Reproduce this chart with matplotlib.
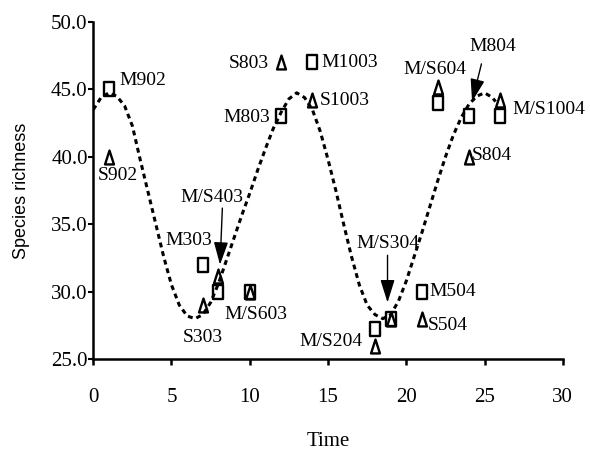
import matplotlib
matplotlib.use("Agg")
import matplotlib.pyplot as plt
from matplotlib.path import Path

# fitted curve, every half time unit
curve_time = [0.0, 0.5, 1.0, 1.5, 2.0, 2.5, 3.0, 3.5, 4.0, 4.5, 5.0, 5.5, 6.0, 6.5,
              7.0, 7.5, 8.0, 8.5, 9.0, 9.5, 10.0, 10.5, 11.0, 11.5, 12.0, 12.5, 13.0,
              13.5, 14.0, 14.5, 15.0, 15.5, 16.0, 16.5, 17.0, 17.5, 18.0, 18.5, 19.0,
              19.5, 20.0, 20.5, 21.0, 21.5, 22.0, 22.5, 23.0, 23.5, 24.0, 24.5, 25.0,
              25.5, 25.7]
curve_rich = [43.5, 44.4, 44.75, 44.5, 43.8, 42.3, 39.8, 37.4, 35.0, 32.6, 30.5, 29.0,
              28.2, 28.0, 28.3, 29.2, 30.6, 32.3, 34.0, 35.7, 37.3, 39.0, 40.6, 42.1,
              43.3, 44.3, 44.75, 44.4, 43.5, 41.9, 39.8, 37.5, 35.0, 32.6, 30.5, 29.0,
              28.3, 28.0, 28.3, 29.3, 30.8, 32.6, 34.4, 36.3, 38.2, 40.0, 41.6, 42.9,
              43.9, 44.5, 44.75, 44.4, 44.1]

# M samples (squares) and S samples (triangles)
m_time = [1, 7, 8, 10, 12, 14, 18, 19, 21, 22, 24, 26]
m_rich = [45.0, 32.0, 30.0, 30.0, 43.0, 47.0, 27.2, 28.0, 30.0, 44.0, 43.0, 43.0]
s_time = [1, 7, 8, 10, 12, 14, 18, 19, 21, 22, 24, 26]
s_rich = [40.0, 29.0, 31.2, 30.0, 47.0, 44.2, 26.0, 28.0, 28.0, 45.2, 40.0, 44.2]

x_ticks = [0, 5, 10, 15, 20, 25, 30]
y_ticks = [25.0, 30.0, 35.0, 40.0, 45.0, 50.0]

# plain labels: text, x, y, ha
labels = [
    ("M902", 1.65, 45.7, "left"),
    ("S902", 1.55, 38.6, "center"),
    ("S803", 11.2, 46.9, "right"),
    ("M803", 11.3, 42.9, "right"),
    ("M1003", 14.6, 47.0, "left"),
    ("S1003", 14.5, 44.2, "left"),
    ("M/S604", 21.8, 46.5, "center"),
    ("M/S1004", 26.75, 43.5, "left"),
    ("S804", 24.2, 40.1, "left"),
    ("M303", 6.1, 33.8, "center"),
    ("M/S603", 8.4, 28.3, "left"),
    ("S303", 7.0, 26.6, "center"),
    ("M/S204", 17.2, 26.3, "right"),
    ("M504", 21.5, 30.0, "left"),
    ("S504", 21.4, 27.5, "left"),
]

# labels with arrows: text, label xy, arrow start, arrow tip
arrows = [
    ("M/S403", (7.6, 37.0), (8.25, 36.2), (8.1, 32.0)),
    ("M/S304", (18.8, 33.6), (18.8, 32.7), (18.8, 29.2)),
    ("M804", (25.5, 48.2), (24.8, 46.9), (24.2, 44.1)),
]

rect = Path([(-0.36, -0.5), (0.36, -0.5), (0.36, 0.5), (-0.36, 0.5), (-0.36, -0.5)],
            [Path.MOVETO, Path.LINETO, Path.LINETO, Path.LINETO, Path.CLOSEPOLY])
tri = Path([(-0.32, -0.5), (0.32, -0.5), (0.0, 0.5), (-0.32, -0.5)],
           [Path.MOVETO, Path.LINETO, Path.LINETO, Path.CLOSEPOLY])

serif = ["Liberation Serif", "DejaVu Serif"]

fig = plt.figure(figsize=(5.9, 4.5), dpi=100)
ax = fig.add_axes([0.158, 0.202, 0.796, 0.749])

ax.plot(curve_time, curve_rich, color="k", lw=2.2, linestyle=(0, (1.6, 1.3)), zorder=2)
ax.plot(m_time, m_rich, linestyle="none", marker=rect, markersize=9.5,
        markerfacecolor="none", markeredgecolor="k", markeredgewidth=1.7, zorder=3)
ax.plot(s_time, s_rich, linestyle="none", marker=tri, markersize=10,
        markerfacecolor="none", markeredgecolor="k", markeredgewidth=1.7, zorder=3)

for txt, x, y, ha in labels:
    ax.text(x, y, txt, ha=ha, va="center", fontsize=14, family=serif)

for txt, lab, start, tip in arrows:
    ax.text(lab[0], lab[1], txt, ha="center", va="center", fontsize=14, family=serif)
    ax.annotate("", xy=tip, xytext=start,
                arrowprops=dict(arrowstyle="-|>,head_length=0.7,head_width=0.22",
                                mutation_scale=20, lw=1, color="k",
                                shrinkA=0, shrinkB=0))

ax.set_xlim(0, 30)
ax.set_ylim(25, 50)
ax.set_xticks(x_ticks)
ax.set_yticks(y_ticks)
ax.set_xticklabels([str(v) for v in x_ticks], family=serif, fontsize=15)
ax.set_yticklabels(["%.1f" % v for v in y_ticks], family=serif, fontsize=15)
ax.tick_params(axis="x", direction="out", length=4.5, width=1.8, pad=16)
ax.tick_params(axis="y", direction="out", length=3.5, width=1.5, pad=0.5)

ax.spines["top"].set_visible(False)
ax.spines["right"].set_visible(False)
ax.spines["left"].set_linewidth(1.8)
ax.spines["bottom"].set_linewidth(1.8)

ax.set_xlabel("Time", family=serif, fontsize=15, labelpad=18)
ax.set_ylabel("Species richness", family=["Liberation Sans", "DejaVu Sans"],
              fontsize=13, labelpad=15)

fig.savefig("out.png", dpi=100)
